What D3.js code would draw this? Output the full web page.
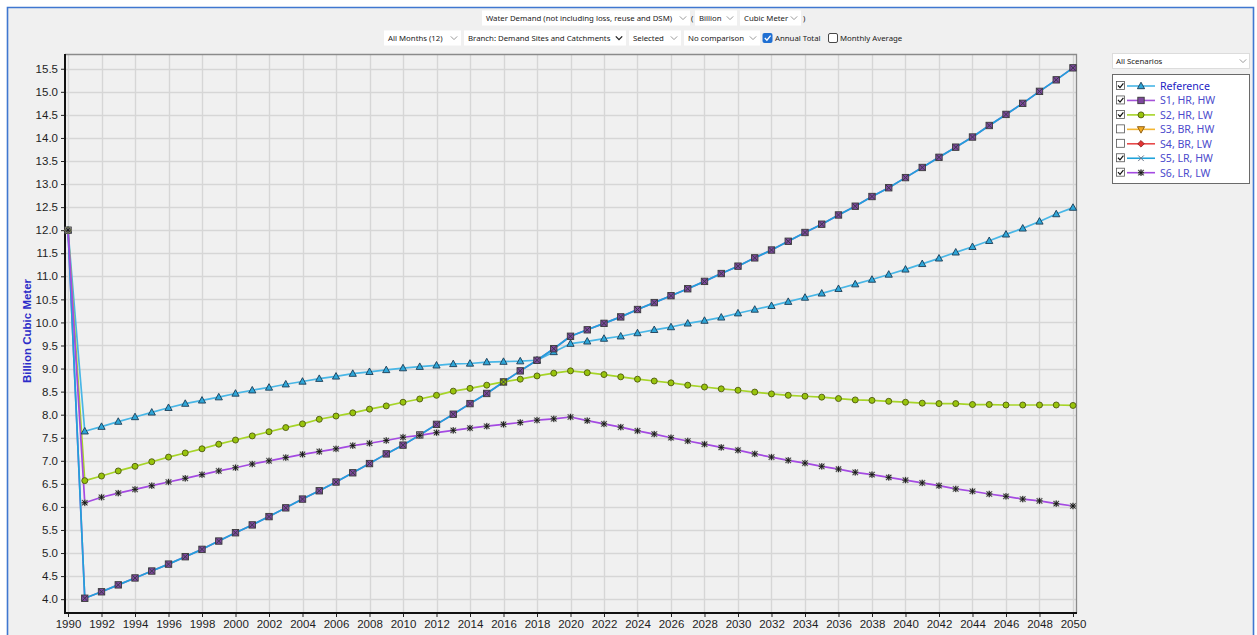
<!DOCTYPE html>
<html>
<head>
<meta charset="utf-8">
<script src="https://cdn.jsdelivr.net/npm/d3@7"></script>
<style>
  html, body { margin: 0; padding: 0; background: #ffffff; }
  svg { display: block; }
</style>
</head>
<body>
<svg id="chart" width="1257" height="635"></svg>
<script>
// ---- data -----------------------------------------------------------------
const years = d3.range(1990, 2051);

const reference = [12.00, 7.64, 7.74, 7.85, 7.95, 8.05, 8.15, 8.24, 8.31, 8.38,
  8.46, 8.53, 8.59, 8.66, 8.72, 8.78, 8.83, 8.89, 8.93, 8.97,
  9.01, 9.04, 9.07, 9.10, 9.11, 9.14, 9.15, 9.16, 9.18, 9.36,
  9.54, 9.59, 9.65, 9.70, 9.77, 9.84, 9.90, 9.98, 10.04, 10.11,
  10.20, 10.28, 10.36, 10.45, 10.54, 10.63, 10.73, 10.83, 10.93, 11.04,
  11.15, 11.27, 11.39, 11.52, 11.64, 11.77, 11.91, 12.04, 12.19, 12.35,
  12.49];

const s1HrHw = [12.00, 4.02, 4.16, 4.31, 4.46, 4.61, 4.76, 4.92, 5.08, 5.26,
  5.44, 5.61, 5.79, 5.98, 6.17, 6.35, 6.54, 6.74, 6.94, 7.15,
  7.34, 7.56, 7.79, 8.01, 8.24, 8.46, 8.71, 8.95, 9.18, 9.43,
  9.70, 9.84, 9.98, 10.12, 10.28, 10.43, 10.58, 10.73, 10.89, 11.06,
  11.22, 11.40, 11.57, 11.76, 11.95, 12.13, 12.33, 12.52, 12.73, 12.92,
  13.14, 13.36, 13.58, 13.80, 14.02, 14.27, 14.51, 14.75, 15.01, 15.26,
  15.52];

const s2HrLw = [12.00, 6.57, 6.67, 6.78, 6.88, 6.98, 7.08, 7.17, 7.26, 7.36,
  7.45, 7.54, 7.63, 7.72, 7.80, 7.90, 7.97, 8.04, 8.12, 8.19,
  8.27, 8.34, 8.42, 8.51, 8.57, 8.64, 8.71, 8.77, 8.84, 8.90,
  8.95, 8.91, 8.87, 8.82, 8.77, 8.73, 8.69, 8.64, 8.60, 8.56,
  8.53, 8.49, 8.45, 8.42, 8.40, 8.38, 8.35, 8.32, 8.31, 8.29,
  8.27, 8.25, 8.24, 8.24, 8.22, 8.22, 8.21, 8.21, 8.21, 8.21,
  8.20];

const s5LrHw = [12.00, 4.02, 4.16, 4.31, 4.46, 4.61, 4.76, 4.92, 5.08, 5.26,
  5.44, 5.61, 5.79, 5.98, 6.17, 6.35, 6.54, 6.74, 6.94, 7.15,
  7.34, 7.56, 7.79, 8.01, 8.24, 8.46, 8.71, 8.95, 9.18, 9.43,
  9.70, 9.84, 9.98, 10.12, 10.28, 10.43, 10.58, 10.73, 10.89, 11.06,
  11.22, 11.40, 11.57, 11.76, 11.95, 12.13, 12.33, 12.52, 12.73, 12.92,
  13.14, 13.36, 13.58, 13.80, 14.02, 14.27, 14.51, 14.75, 15.01, 15.26,
  15.52];

const s6LrLw = [12.00, 6.09, 6.21, 6.30, 6.38, 6.46, 6.54, 6.62, 6.70, 6.78,
  6.85, 6.93, 7.00, 7.07, 7.14, 7.20, 7.26, 7.33, 7.38, 7.44,
  7.51, 7.55, 7.61, 7.66, 7.71, 7.75, 7.79, 7.83, 7.88, 7.91,
  7.95, 7.87, 7.80, 7.73, 7.65, 7.58, 7.50, 7.43, 7.36, 7.29,
  7.23, 7.15, 7.08, 7.01, 6.95, 6.88, 6.82, 6.75, 6.70, 6.64,
  6.58, 6.52, 6.46, 6.39, 6.34, 6.28, 6.23, 6.17, 6.13, 6.07,
  6.02];

const scenarioNames = ["Reference", "S1, HR, HW", "S2, HR, LW", "S3, BR, HW", "S4, BR, LW", "S5, LR, HW", "S6, LR, LW"];
const scenarioShown = [true, true, true, false, false, true, true];

const xTickLabels = [1990, 1992, 1994, 1996, 1998, 2000, 2002, 2004, 2006, 2008,
  2010, 2012, 2014, 2016, 2018, 2020, 2022, 2024, 2026, 2028,
  2030, 2032, 2034, 2036, 2038, 2040, 2042, 2044, 2046, 2048, 2050];
const yTickLabels = [4.0, 4.5, 5.0, 5.5, 6.0, 6.5, 7.0, 7.5, 8.0, 8.5, 9.0, 9.5,
  10.0, 10.5, 11.0, 11.5, 12.0, 12.5, 13.0, 13.5, 14.0, 14.5, 15.0, 15.5];

// ---- styles for each scenario ---------------------------------------------
const styles = {
  "Reference":  { line: "#48b6e6", marker: "triangle" },
  "S1, HR, HW": { line: "#a452d8", marker: "square" },
  "S2, HR, LW": { line: "#a6d428", marker: "circle" },
  "S3, BR, HW": { line: "#f4b632", marker: "triangleDown" },
  "S4, BR, LW": { line: "#e84a4a", marker: "diamond" },
  "S5, LR, HW": { line: "#1fa3da", marker: "cross" },
  "S6, LR, LW": { line: "#a44ae2", marker: "star" }
};

const plotted = [
  { name: "Reference",  values: reference },
  { name: "S1, HR, HW", values: s1HrHw },
  { name: "S2, HR, LW", values: s2HrLw },
  { name: "S5, LR, HW", values: s5LrHw },
  { name: "S6, LR, LW", values: s6LrLw }
];

// ---- canvas ------------------------------------------------------------------
const svg = d3.select("#chart");
const W = 1257, H = 635;
const FONT = "'Liberation Sans', Arial, sans-serif";
const UI_FONT = "'Noto Sans', 'Open Sans', sans-serif";
const UI_SIZE = 7.8;

svg.append("rect").attr("width", W).attr("height", H).attr("fill", "#ffffff");
svg.append("rect").attr("x", 7).attr("y", 7).attr("width", 1247).attr("height", H - 7).attr("fill", "#f0f0f0");
// window frame
svg.append("path")
  .attr("d", `M7.5,${H} V7.5 H1253.5 V${H}`)
  .attr("fill", "none").attr("stroke", "#3f77d0").attr("stroke-width", 1.6);

// ---- plot geometry -----------------------------------------------------------
const plot = { left: 65, right: 1076, top: 54, bottom: 613 };
const x = d3.scaleLinear().domain([1989.82, 2050.18]).range([plot.left, plot.right]);
const y = d3.scaleLinear().domain([3.70, 15.82]).range([plot.bottom, plot.top]);

const g = svg.append("g");

// grid
g.append("g").selectAll("line").data(yTickLabels).join("line")
  .attr("x1", plot.left).attr("x2", plot.right)
  .attr("y1", d => Math.round(y(d)) + 0.5).attr("y2", d => Math.round(y(d)) + 0.5)
  .attr("stroke", "#d6d6d6").attr("stroke-width", 1.4);
g.append("g").selectAll("line").data(xTickLabels).join("line")
  .attr("x1", d => Math.round(x(d)) + 0.5).attr("x2", d => Math.round(x(d)) + 0.5)
  .attr("y1", plot.top).attr("y2", plot.bottom)
  .attr("stroke", "#d6d6d6").attr("stroke-width", 1.4);

// frame: top/right light, left/bottom heavy
g.append("path")
  .attr("d", `M${plot.left},${plot.top + 0.5} H${plot.right + 0.5} V${plot.bottom}`)
  .attr("fill", "none").attr("stroke", "#8a8a8a").attr("stroke-width", 1.3);

// axes
const yAxis = d3.axisLeft(y).tickValues(yTickLabels).tickFormat(d3.format(".1f"))
  .tickSizeInner(4).tickSizeOuter(0).tickPadding(3);
const yAxisG = svg.append("g").attr("transform", `translate(${plot.left},0)`).call(yAxis);
yAxisG.select(".domain").remove();
yAxisG.selectAll(".tick line").attr("stroke", "#222");
yAxisG.selectAll(".tick text").attr("font-family", FONT).attr("font-size", 11.5)
  .attr("fill", "#1e1e1e");

const xAxis = d3.axisBottom(x).tickValues(xTickLabels).tickFormat(d3.format("d"))
  .tickSizeInner(4).tickSizeOuter(0).tickPadding(3);
const xAxisG = svg.append("g").attr("transform", `translate(0,${plot.bottom})`).call(xAxis);
xAxisG.select(".domain").remove();
xAxisG.selectAll(".tick line").attr("stroke", "#222");
xAxisG.selectAll(".tick text").attr("font-family", FONT).attr("font-size", 11.5)
  .attr("fill", "#1e1e1e");

svg.append("path")
  .attr("d", `M${plot.left},${plot.top} V${plot.bottom} H${plot.right + 1}`)
  .attr("fill", "none").attr("stroke", "#111").attr("stroke-width", 2);

// y title
svg.append("text")
  .attr("transform", "translate(31,331) rotate(-90)")
  .attr("text-anchor", "middle")
  .attr("font-family", FONT).attr("font-size", 11.5).attr("font-weight", "bold")
  .attr("fill", "#2b2bc8")
  .text("Billion Cubic Meter");

// ---- markers -------------------------------------------------------------------
function drawMarker(sel, type, color) {
  if (type === "triangle") {
    sel.append("path").attr("d", "M0,-3.8 L3.6,2.7 L-3.6,2.7 Z")
      .attr("fill", "#2ea6d8").attr("stroke", "#1c3c55").attr("stroke-width", 0.9);
  } else if (type === "triangleDown") {
    sel.append("path").attr("d", "M0,3.8 L3.6,-2.7 L-3.6,-2.7 Z")
      .attr("fill", "#f0a820").attr("stroke", "#8a5a10").attr("stroke-width", 0.9);
  } else if (type === "square") {
    sel.append("rect").attr("x", -3.2).attr("y", -3.2).attr("width", 6.4).attr("height", 6.4)
      .attr("fill", "#7e479e").attr("stroke", "#3a3a3a").attr("stroke-width", 0.9);
  } else if (type === "circle") {
    sel.append("circle").attr("r", 3.0)
      .attr("fill", "#98c40c").attr("stroke", "#4f5a10").attr("stroke-width", 0.9);
  } else if (type === "diamond") {
    sel.append("path").attr("d", "M0,-3.3 L3.3,0 L0,3.3 L-3.3,0 Z")
      .attr("fill", "#e03434").attr("stroke", "#8a2020").attr("stroke-width", 0.8);
  } else if (type === "cross") {
    sel.append("path").attr("d", "M-2.8,-2.8 L2.8,2.8 M-2.8,2.8 L2.8,-2.8")
      .attr("fill", "none").attr("stroke", color || "#4a5568").attr("stroke-width", 1.0);
  } else if (type === "star") {
    sel.append("path").attr("d", "M-3.4,0 H3.4 M0,-3.4 V3.4 M-2.8,-2.8 L2.8,2.8 M-2.8,2.8 L2.8,-2.8")
      .attr("fill", "none").attr("stroke", "#9a9a9a").attr("stroke-width", 1.5);
    sel.append("path").attr("d", "M-3,0 H3 M0,-3 V3 M-2.4,-2.4 L2.4,2.4 M-2.4,2.4 L2.4,-2.4")
      .attr("fill", "none").attr("stroke", "#111").attr("stroke-width", 0.85);
  }
}

// ---- series ----------------------------------------------------------------------
const line = d3.line().x((d, i) => x(years[i])).y(d => y(d));
const series = svg.append("g");

plotted.forEach(s => {
  series.append("path")
    .datum(s.values)
    .attr("d", line)
    .attr("fill", "none")
    .attr("stroke", styles[s.name].line)
    .attr("stroke-width", 1.7)
    .attr("stroke-linejoin", "round");
});

plotted.forEach(s => {
  const mg = series.append("g");
  s.values.forEach((v, i) => {
    const m = mg.append("g").attr("transform", `translate(${x(years[i])},${y(v)})`);
    drawMarker(m, styles[s.name].marker, s.name === "S5, LR, HW" ? "#3a3a4a" : null);
  });
});

// ---- top controls ------------------------------------------------------------------
function chevron(gSel, cx, cy, color, w) {
  gSel.append("path")
    .attr("d", `M${cx - 3.2},${cy - 1.6} L${cx},${cy + 1.6} L${cx + 3.2},${cy - 1.6}`)
    .attr("fill", "none").attr("stroke", color).attr("stroke-width", w || 1);
}
function dropdown(x0, x1, cy, label, chevColor, chevW) {
  const dg = svg.append("g");
  dg.append("rect").attr("x", x0).attr("y", cy - 7.5).attr("width", x1 - x0).attr("height", 15)
    .attr("fill", "#ffffff");
  dg.append("text").attr("x", x0 + 4).attr("y", cy + 3)
    .attr("font-family", UI_FONT).attr("font-size", UI_SIZE).attr("fill", "#1a1a1a")
    .text(label);
  chevron(dg, x1 - 7, cy, chevColor || "#9a9a9a", chevW);
}
function plainText(xp, cy, str) {
  svg.append("text").attr("x", xp).attr("y", cy + 3)
    .attr("font-family", UI_FONT).attr("font-size", UI_SIZE).attr("fill", "#1a1a1a").text(str);
}

const row1 = 18, row2 = 38;
dropdown(482, 690, row1, "Water Demand (not including loss, reuse and DSM)");
plainText(691, row1, "(");
dropdown(695, 737, row1, "Billion");
dropdown(740, 801, row1, "Cubic Meter");
plainText(803, row1, ")");

dropdown(384, 461, row2, "All Months (12)");
dropdown(464, 626, row2, "Branch: Demand Sites and Catchments", "#222", 1.3);
dropdown(629, 681, row2, "Selected");
dropdown(684, 760, row2, "No comparison");

// "Annual Total" checked box
svg.append("rect").attr("x", 762.5).attr("y", row2 - 5).attr("width", 10).attr("height", 10)
  .attr("rx", 2).attr("fill", "#1f6fd2");
svg.append("path").attr("d", `M764.8,${row2} L766.9,${row2 + 2.2} L770.6,${row2 - 2.4}`)
  .attr("fill", "none").attr("stroke", "#ffffff").attr("stroke-width", 1.3);
plainText(775, row2, "Annual Total");
// "Monthly Average" unchecked box
svg.append("rect").attr("x", 828.5).attr("y", row2 - 4.5).attr("width", 9).attr("height", 9)
  .attr("rx", 1.5).attr("fill", "#ffffff").attr("stroke", "#333").attr("stroke-width", 0.9);
plainText(840, row2, "Monthly Average");

// ---- legend panel ---------------------------------------------------------------------
const lg = svg.append("g");
lg.append("rect").attr("x", 1112.5).attr("y", 53.5).attr("width", 137).attr("height", 15)
  .attr("fill", "#ffffff").attr("stroke", "#dcdcdc");
lg.append("text").attr("x", 1116).attr("y", 64)
  .attr("font-family", UI_FONT).attr("font-size", UI_SIZE).attr("fill", "#1a1a1a").text("All Scenarios");
chevron(lg, 1243, 61, "#9a9a9a");

lg.append("rect").attr("x", 1112.5).attr("y", 74.5).attr("width", 137).attr("height", 109)
  .attr("fill", "#ffffff").attr("stroke", "#6a6a6a").attr("stroke-width", 1);

scenarioNames.forEach((name, i) => {
  const cy = 86 + i * 14.45;
  const row = lg.append("g");
  row.append("rect").attr("x", 1116.5).attr("y", cy - 4.5).attr("width", 8).attr("height", 8)
    .attr("fill", "#ffffff").attr("stroke", "#555").attr("stroke-width", 0.8);
  if (scenarioShown[i]) {
    row.append("path").attr("d", `M1118,${cy - 0.5} L1120,${cy + 1.6} L1123.4,${cy - 2.6}`)
      .attr("fill", "none").attr("stroke", "#111").attr("stroke-width", 1.2);
  }
  row.append("line").attr("x1", 1127).attr("x2", 1155).attr("y1", cy).attr("y2", cy)
    .attr("stroke", styles[name].line).attr("stroke-width", 1.6);
  const m = row.append("g").attr("transform", `translate(1141,${cy})`);
  drawMarker(m, styles[name].marker, name === "S5, LR, HW" ? "#6a7488" : null);
  row.append("text").attr("x", 1160).attr("y", cy + 4)
    .attr("font-family", UI_FONT).attr("font-size", 10.6)
    .attr("fill", i === 0 ? "#2424c4" : "#4b4bcc")
    .text(name);
});
</script>
</body>
</html>
